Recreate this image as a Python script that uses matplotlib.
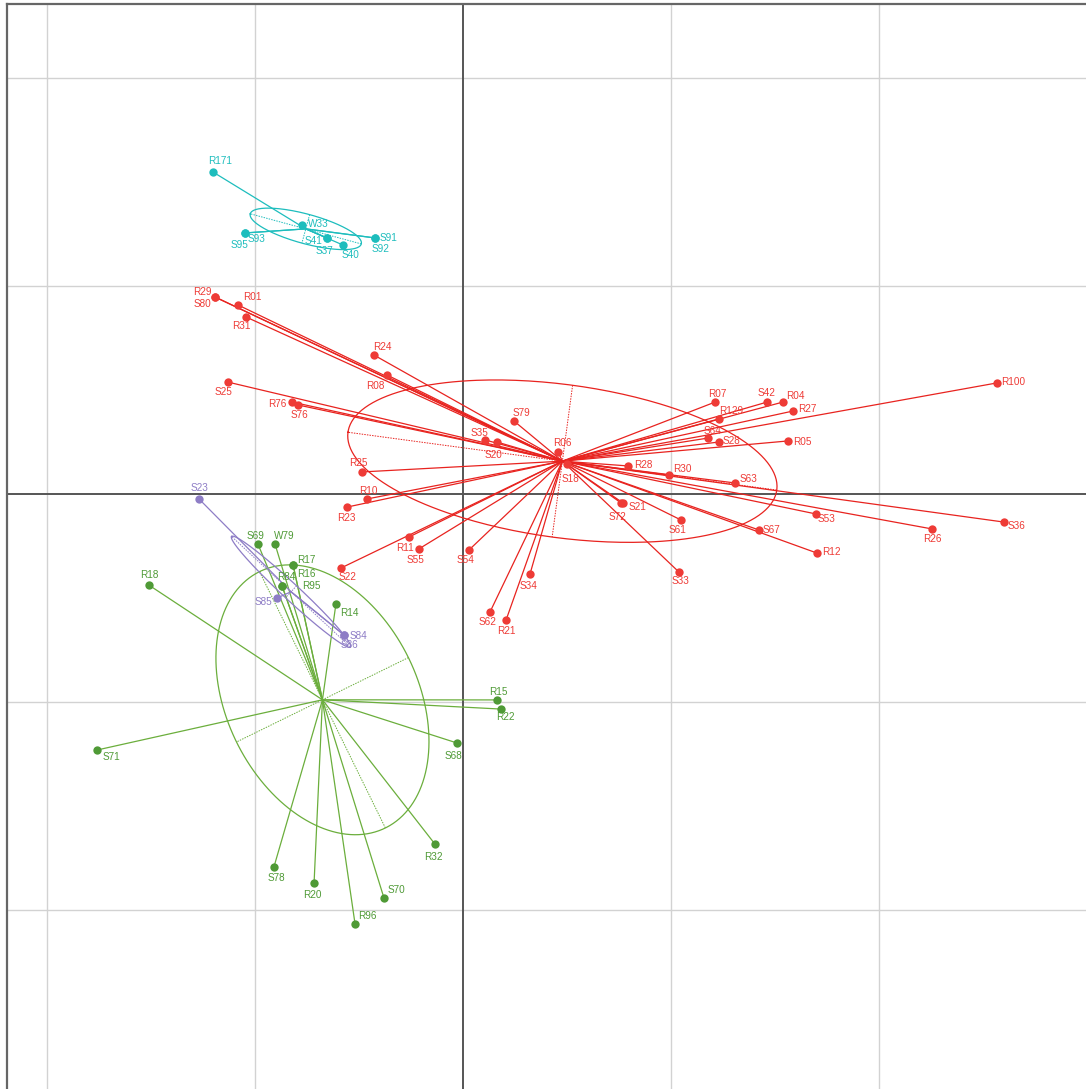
import numpy as np
import matplotlib
matplotlib.use("Agg")
import matplotlib.pyplot as plt

# ---------------- data (factor-map coordinates) ----------------
cyan_labels = ["R171", "W33", "S95", "S93", "S41", "S37", "S40", "S91", "S92"]
cyan_x = [-1.202, -0.774, -1.048, -1.048, -0.654, -0.654, -0.577, -0.423, -0.423]
cyan_y = [1.548, 1.293, 1.255, 1.255, 1.231, 1.231, 1.197, 1.231, 1.231]

red_labels = ["R29", "S80", "R01", "R31", "R24", "R08", "S25", "R76", "S76", "R25",
              "S79", "S35", "S20", "R06", "S18", "R28", "R30", "S63", "S21", "S72",
              "R07", "S42", "R04", "R27", "R129", "S64", "S28", "R05", "R100", "S36",
              "R26", "S53", "R12", "S67", "R10", "R23", "R11", "S55", "S22", "S54",
              "S62", "R21", "S34", "S61", "S33"]
red_x = [-1.192, -1.192, -1.082, -1.043, -0.428, -0.365, -1.130, -0.822, -0.793, -0.486,
         0.245, 0.106, 0.163, 0.457, 0.500, 0.793, 0.990, 1.308, 0.769, 0.760,
         1.212, 1.462, 1.538, 1.587, 1.231, 1.178, 1.231, 1.562, 2.567, 2.601,
         2.255, 1.697, 1.702, 1.423, -0.462, -0.558, -0.260, -0.212, -0.587, 0.029,
         0.130, 0.207, 0.322, 1.048, 1.038]
red_y = [0.947, 0.947, 0.909, 0.851, 0.668, 0.572, 0.538, 0.442, 0.428, 0.106,
         0.351, 0.260, 0.250, 0.202, 0.144, 0.135, 0.091, 0.053, -0.043, -0.043,
         0.442, 0.442, 0.442, 0.399, 0.361, 0.269, 0.250, 0.255, 0.534, -0.135,
         -0.168, -0.096, -0.284, -0.173, -0.024, -0.063, -0.207, -0.264, -0.356, -0.269,
         -0.567, -0.606, -0.385, -0.125, -0.375]

green_labels = ["S69", "W79", "R17", "R16", "R84", "R95", "R18", "R14", "S71", "S68",
                "R32", "S78", "R20", "S70", "R96", "R15", "R22"]
green_x = [-0.986, -0.904, -0.817, -0.817, -0.870, -0.870, -1.510, -0.611, -1.760, -0.029,
           -0.135, -0.909, -0.716, -0.380, -0.519, 0.163, 0.183]
green_y = [-0.240, -0.240, -0.341, -0.341, -0.442, -0.442, -0.438, -0.529, -1.231, -1.197,
           -1.683, -1.793, -1.870, -1.942, -2.067, -0.990, -1.034]

purple_labels = ["S23", "S85", "S84", "S86"]
purple_x = [-1.269, -0.894, -0.572, -0.572]
purple_y = [-0.024, -0.500, -0.678, -0.678]

grid_ticks = [-2, -1, 1, 2]

# ---------------- label offsets (pixels: dx right, dy down) ----------------
label_off = {
    "R171": (7, -11), "W33": (16, -1), "S95": (-6, 12), "S93": (11, 6), "S41": (-13, 3),
    "S37": (-3, 13), "S40": (8, 10), "S91": (13, 0), "S92": (5, 11),
    "R29": (-13, -5), "S80": (-13, 7), "R01": (14, -8), "R31": (-5, 9), "R24": (8, -8),
    "R08": (-12, 11), "S25": (-4, 10), "R76": (-15, 2), "S76": (1, 10), "R25": (-4, -9),
    "S79": (7, -8), "S35": (-6, -7), "S20": (-3, 13), "R06": (4, -9), "S18": (3, 15),
    "R28": (15, -1), "R30": (13, -6), "S63": (13, -4), "S21": (15, 4), "S72": (-4, 14),
    "R07": (2, -8), "S42": (-1, -9), "R04": (12, -6), "R27": (14, -2), "R129": (12, -8),
    "S64": (4, -7), "S28": (12, -1), "R05": (14, 1), "R100": (16, -1), "S36": (13, 4),
    "R26": (0, 10), "S53": (11, 5), "R12": (14, -1), "S67": (12, 0), "R10": (1, -8),
    "R23": (-1, 11), "R11": (-4, 11), "S55": (-3, 11), "S22": (7, 9), "S54": (-4, 10),
    "S62": (-3, 10), "R21": (0, 11), "S34": (-1, 12), "S61": (-3, 10), "S33": (2, 9),
    "S69": (-2, -8), "W79": (9, -8), "R17": (13, -5), "R16": (13, 9), "R84": (4, -9),
    "R95": (29, 0), "R18": (0, -10), "R14": (13, 9), "S71": (15, 7), "S68": (-4, 13),
    "R32": (-2, 13), "S78": (2, 11), "R20": (-2, 12), "S70": (12, -8), "R96": (12, -8),
    "R15": (1, -8), "R22": (4, 8),
    "S23": (0, -11), "S85": (-14, 4), "S84": (14, 1), "S86": (5, 10),
}

groups = [
    (red_labels, red_x, red_y, "#E8231F", "#EE3B36"),
    (green_labels, green_x, green_y, "#6BAE3C", "#4F9A36"),
    (purple_labels, purple_x, purple_y, "#8E7DC6", "#8E7DC6"),
    (cyan_labels, cyan_x, cyan_y, "#1DBDBD", "#1DBDBD"),
]

W, H = 1086, 1089
fig = plt.figure(figsize=(W / 100, H / 100), dpi=100)
ax = fig.add_axes([7 / W, 0, 1 - 7 / W, 1 - 4 / H])
ax.set_xlim((7 - 463) / 208, (1086 - 463) / 208)
ax.set_ylim((494 - 1089) / 208, (494 - 4) / 208)

for t in grid_ticks:
    ax.axvline(t, color="#d2d2d2", lw=1.0, zorder=0)
    ax.axhline(t, color="#d2d2d2", lw=1.0, zorder=0)
ax.axvline(0, color="#555555", lw=1.4, zorder=0.5)
ax.axhline(0, color="#555555", lw=1.4, zorder=0.5)

for s in ["right", "bottom"]:
    ax.spines[s].set_visible(False)
for s in ["left", "top"]:
    ax.spines[s].set_color("#666666")
    ax.spines[s].set_linewidth(1.6)
ax.set_xticks([])
ax.set_yticks([])

t = np.linspace(0, 2 * np.pi, 300)
for labels, xs, ys, lcol, pcol in groups:
    x = np.asarray(xs)
    y = np.asarray(ys)
    cx, cy = x.mean(), y.mean()
    # star lines
    for xi, yi in zip(x, y):
        ax.plot([cx, xi], [cy, yi], color=lcol, lw=0.9, zorder=2)
    # ellipse (cellipse = 1)
    cov = np.cov(np.vstack([x, y]), bias=True)
    vals, vecs = np.linalg.eigh(cov)
    a = 1.0 * np.sqrt(max(vals[1], 0))
    b = 1.0 * np.sqrt(max(vals[0], 0))
    v1 = vecs[:, 1]
    v2 = vecs[:, 0]
    ex = cx + a * np.cos(t) * v1[0] + b * np.sin(t) * v2[0]
    ey = cy + a * np.cos(t) * v1[1] + b * np.sin(t) * v2[1]
    ax.plot(ex, ey, color=lcol, lw=0.9, zorder=2)
    ax.plot([cx - a * v1[0], cx + a * v1[0]], [cy - a * v1[1], cy + a * v1[1]],
            color=lcol, lw=0.7, ls=(0, (1.5, 1.2)), zorder=2)
    ax.plot([cx - b * v2[0], cx + b * v2[0]], [cy - b * v2[1], cy + b * v2[1]],
            color=lcol, lw=0.7, ls=(0, (1.5, 1.2)), zorder=2)
    ax.scatter(x, y, s=36, color=pcol, zorder=3, linewidths=0)
    for lab, xi, yi in zip(labels, x, y):
        dx, dy = label_off[lab]
        ax.annotate(lab, (xi, yi), xytext=(dx * 0.72, -dy * 0.72), textcoords="offset points",
                    ha="center", va="center", fontsize=7.2, color=pcol,
                    family=["Liberation Sans", "DejaVu Sans"], zorder=4)

fig.savefig("out.png", dpi=100)
